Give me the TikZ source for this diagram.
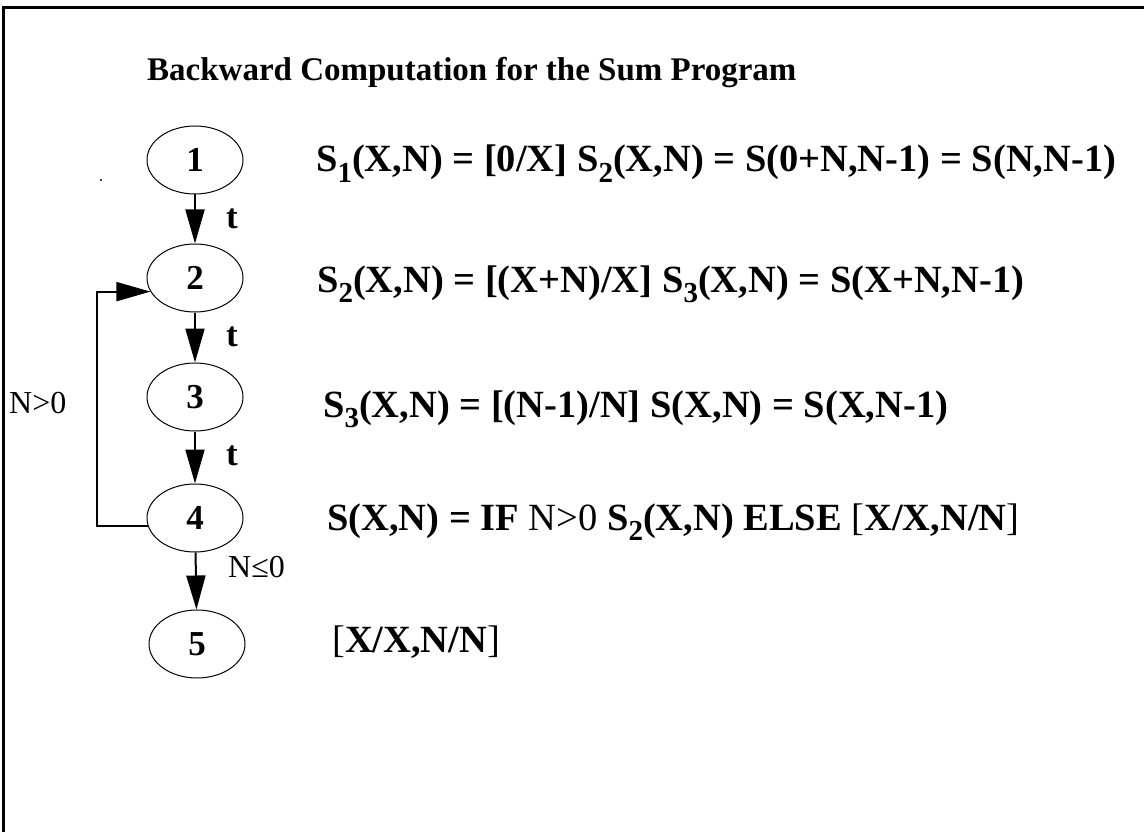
\documentclass[tikz,border=0pt]{standalone}
\usepackage{fontspec}
\setmainfont{Liberation Serif}
\usetikzlibrary{arrows.meta,shapes.geometric}
\newcommand\subs[1]{\raisebox{-0.28em}{\fontsize{29}{29}\selectfont #1}}
\begin{document}
\begin{tikzpicture}[x=1pt,y=-1pt,
 state/.style={draw, ellipse, minimum width=96pt, minimum height=68pt, inner sep=0pt, line width=1pt, font=\fontsize{35}{35}\selectfont\bfseries},
 flow/.style={line width=2pt, line join=miter, -{Triangle[length=34pt,width=19pt]}},
 eq/.style={anchor=base west, inner sep=0pt, font=\fontsize{38.5}{38.5}\selectfont\bfseries},
 lbl/.style={anchor=base west, inner sep=0pt, font=\fontsize{35}{35}\selectfont\bfseries},
 cond/.style={anchor=base west, inner sep=0pt, font=\fontsize{32}{32}\selectfont}]
\useasboundingbox (0,0) rectangle (1144,832);
\draw[line width=3pt] (3.5,832) -- (3.5,8) -- (1144,8);
\node[anchor=base west, inner sep=0pt, font=\fontsize{33}{33}\selectfont\bfseries] (title) at (147,81) {Backward Computation for the Sum Program};

\node[state] (n1) at (195,160) {1};
\node[state] (n2) at (195,278) {2};
\node[state] (n3) at (195,397) {3};
\node[state] (n4) at (195,518) {4};
\node[state] (n5) at (197,644) {5};

\draw[flow] (n1) -- (n2);
\draw[flow] (n2) -- (n3);
\draw[flow] (n3) -- (n4);
\draw[flow] (n4) -- (n5);
\coordinate (lx) at (97,0);
\draw[flow] (n4.190) -- (n4.190 -| lx) -- (n2.197 -| lx) -- (n2.197);

\node[lbl] (t1) at (226,228) {t};
\node[lbl] (t2) at (226,346) {t};
\node[lbl] (t3) at (226,465) {t};
\node[cond] (c1) at (9,413) {N>0};
\node[cond] (c2) at (228,577) {N≤0};

\fill (101,180) circle (1.2);

\node[eq] (e1) at (316,172) {S\subs{1}(X,N) = [0/X] S\subs{2}(X,N) = S(0+N,N-1) = S(N,N-1)};
\node[eq] (e2) at (317,292) {S\subs{2}(X,N) = [(X+N)/X] S\subs{3}(X,N) = S(X+N,N-1)};
\node[eq] (e3) at (323,417) {S\subs{3}(X,N) = [(N-1)/N] S(X,N) = S(X,N-1)};
\node[eq] (e4) at (327,530) {S(X,N) = IF \textmd{N>0} S\subs{2}(X,N) ELSE \textmd{[}X/X,N/N\textmd{]}};
\node[eq] (e5) at (332,652) {\textmd{[}X/X,N/N\textmd{]}};
\end{tikzpicture}
\end{document}
